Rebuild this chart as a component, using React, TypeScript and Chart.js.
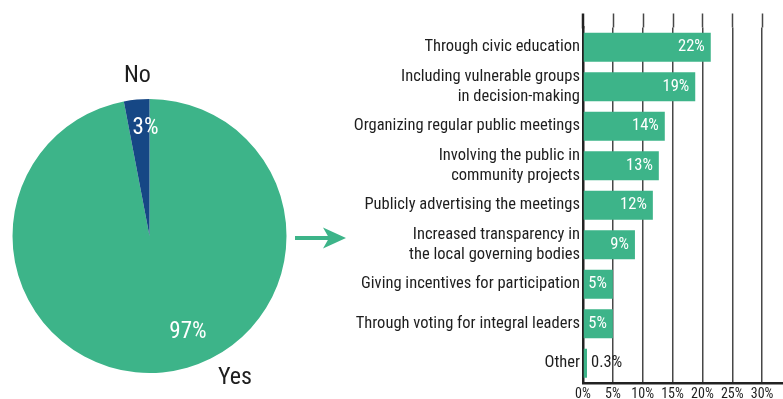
import React, { useEffect, useRef } from "react";
import { Chart, registerables } from "chart.js";

Chart.register(...registerables);

const FONT = "'Roboto Condensed', 'Liberation Sans Narrow', 'DejaVu Sans Condensed', Roboto, sans-serif";

// Pie data
const pieLabels = ["Yes", "No"];
const pieValues = [97, 3];
const pieValueLabels = ["97%", "3%"];
const pieColors = ["#3db489", "#164785"];

// Bar data
const barCategories: (string | string[])[] = [
  "Through civic education",
  ["Including vulnerable groups", "in decision-making"],
  "Organizing regular public meetings",
  ["Involving the public in", "community projects"],
  "Publicly advertising the meetings",
  ["Increased transparency in", "the local governing bodies"],
  "Giving incentives for participation",
  "Through voting for integral leaders",
  "Other",
];
const barValues = [21.4, 18.8, 13.7, 12.7, 11.7, 8.7, 5.0, 5.0, 0.3];
const barValueLabels = ["22%", "19%", "14%", "13%", "12%", "9%", "5%", "5%", "0.3%"];
const xTickValues = [0, 5, 10, 15, 20, 25, 30];

const GREEN = "#3db489";
const GRID = "#474747";
const AXIS = "#222222";
const TEXT = "#1e1e1e";

const piePlugin = {
  id: "pieText",
  afterDraw(chart: any) {
    const ctx = chart.ctx;
    const meta = chart.getDatasetMeta(0);
    const arc = meta.data[0];
    const cx = arc.x;
    const cy = arc.y;
    const R = arc.outerRadius;
    ctx.save();
    ctx.textAlign = "center";
    ctx.textBaseline = "middle";
    const namePos = [
      [0.624, 1.035],
      [-0.088, -1.165],
    ];
    const valPos = [
      [0.281, 0.7],
      [-0.029, -0.79],
    ];
    pieLabels.forEach((lab, i) => {
      ctx.fillStyle = TEXT;
      ctx.font = `24px ${FONT}`;
      ctx.fillText(lab, cx + namePos[i][0] * R, cy + namePos[i][1] * R);
      ctx.fillStyle = "#ffffff";
      ctx.font = `23px ${FONT}`;
      ctx.fillText(pieValueLabels[i], cx + valPos[i][0] * R, cy + valPos[i][1] * R);
    });
    // arrow
    const y = cy + 2;
    const x0 = cx + R + 8.5;
    const tip = x0 + 51;
    ctx.strokeStyle = GREEN;
    ctx.fillStyle = GREEN;
    ctx.lineWidth = 4;
    ctx.beginPath();
    ctx.moveTo(x0, y);
    ctx.lineTo(tip - 12, y);
    ctx.stroke();
    ctx.beginPath();
    ctx.moveTo(tip, y);
    ctx.lineTo(tip - 23, y - 10.5);
    ctx.lineTo(tip - 17, y);
    ctx.lineTo(tip - 23, y + 10.5);
    ctx.closePath();
    ctx.fill();
    ctx.restore();
  },
};

const barPlugin = {
  id: "barText",
  beforeDatasetsDraw(chart: any) {
    const ctx = chart.ctx;
    const xs = chart.scales.x;
    const top = 13.5;
    const area = chart.chartArea;
    ctx.save();
    ctx.strokeStyle = GRID;
    ctx.lineWidth = 1.5;
    xTickValues.forEach((v) => {
      if (v === 0) return;
      const x = Math.round(xs.getPixelForValue(v)) + 0.5;
      ctx.beginPath();
      ctx.moveTo(x, top);
      ctx.lineTo(x, area.top);
      ctx.stroke();
    });
    ctx.strokeStyle = AXIS;
    ctx.lineWidth = 2.5;
    ctx.beginPath();
    ctx.moveTo(area.left, top);
    ctx.lineTo(area.left, area.top + 1);
    ctx.stroke();
    ctx.restore();
  },
  afterDatasetsDraw(chart: any) {
    const ctx = chart.ctx;
    const meta = chart.getDatasetMeta(0);
    ctx.save();
    ctx.font = `16.5px ${FONT}`;
    ctx.textBaseline = "middle";
    meta.data.forEach((bar: any, i: number) => {
      const lab = barValueLabels[i];
      if (barValues[i] < 2) {
        ctx.fillStyle = TEXT;
        ctx.textAlign = "left";
        ctx.fillText(lab, bar.x + 4, bar.y);
      } else {
        ctx.fillStyle = "#ffffff";
        ctx.textAlign = "right";
        ctx.fillText(lab, bar.x - 6, bar.y);
      }
    });
    ctx.restore();
  },
};

export default function App() {
  const pieRef = useRef<HTMLCanvasElement>(null);
  const barRef = useRef<HTMLCanvasElement>(null);

  useEffect(() => {
    Chart.defaults.font.family = FONT;
    const pie = new Chart(pieRef.current!, {
      type: "pie",
      data: {
        labels: pieLabels,
        datasets: [
          {
            data: pieValues,
            backgroundColor: pieColors,
            borderWidth: 0,
          },
        ],
      },
      options: {
        responsive: false,
        animation: false,
        layout: { padding: { left: 12.5, right: 73.5, top: 99, bottom: 26 } },
        plugins: { legend: { display: false }, tooltip: { enabled: false } },
      },
      plugins: [piePlugin],
    });

    const bar = new Chart(barRef.current!, {
      type: "bar",
      data: {
        labels: barCategories,
        datasets: [
          {
            data: barValues,
            backgroundColor: GREEN,
            borderWidth: 0,
            barPercentage: 0.735,
            categoryPercentage: 1,
            minBarLength: 4,
          },
        ],
      },
      options: {
        indexAxis: "y",
        responsive: false,
        animation: false,
        layout: { padding: { left: 0, right: 0, top: 27.5, bottom: 0 } },
        plugins: { legend: { display: false }, tooltip: { enabled: false } },
        scales: {
          x: {
            type: "linear",
            min: 0,
            max: 33.5,
            afterBuildTicks: (scale: any) => {
              scale.ticks = xTickValues.map((v) => ({ value: v }));
            },
            afterFit: (scale: any) => {
              scale.height = 16;
            },
            ticks: {
              callback: (v: any) => `${v}%`,
              font: { size: 14, family: FONT },
              color: TEXT,
              padding: 3,
              maxRotation: 0,
            },
            grid: { color: GRID, lineWidth: 1.5, drawTicks: false },
            border: { display: true, color: AXIS, width: 2.5 },
          },
          y: {
            type: "category",
            afterFit: (scale: any) => {
              scale.width = 333;
            },
            ticks: {
              font: { size: 16.5, family: FONT, lineHeight: 1.17 },
              color: TEXT,
              padding: 3,
              autoSkip: false,
            },
            grid: { display: false, drawTicks: false },
            border: { display: true, color: AXIS, width: 2.5 },
          },
        },
      },
      plugins: [barPlugin],
    });

    return () => {
      pie.destroy();
      bar.destroy();
    };
  }, []);

  return (
    <div style={{ position: "absolute", left: 0, top: 0, width: 783, height: 399, background: "#ffffff" }}>
      <canvas ref={pieRef} width={360} height={399} style={{ position: "absolute", left: 0, top: 0 }} />
      <canvas ref={barRef} width={533} height={399} style={{ position: "absolute", left: 250, top: 0 }} />
    </div>
  );
}
